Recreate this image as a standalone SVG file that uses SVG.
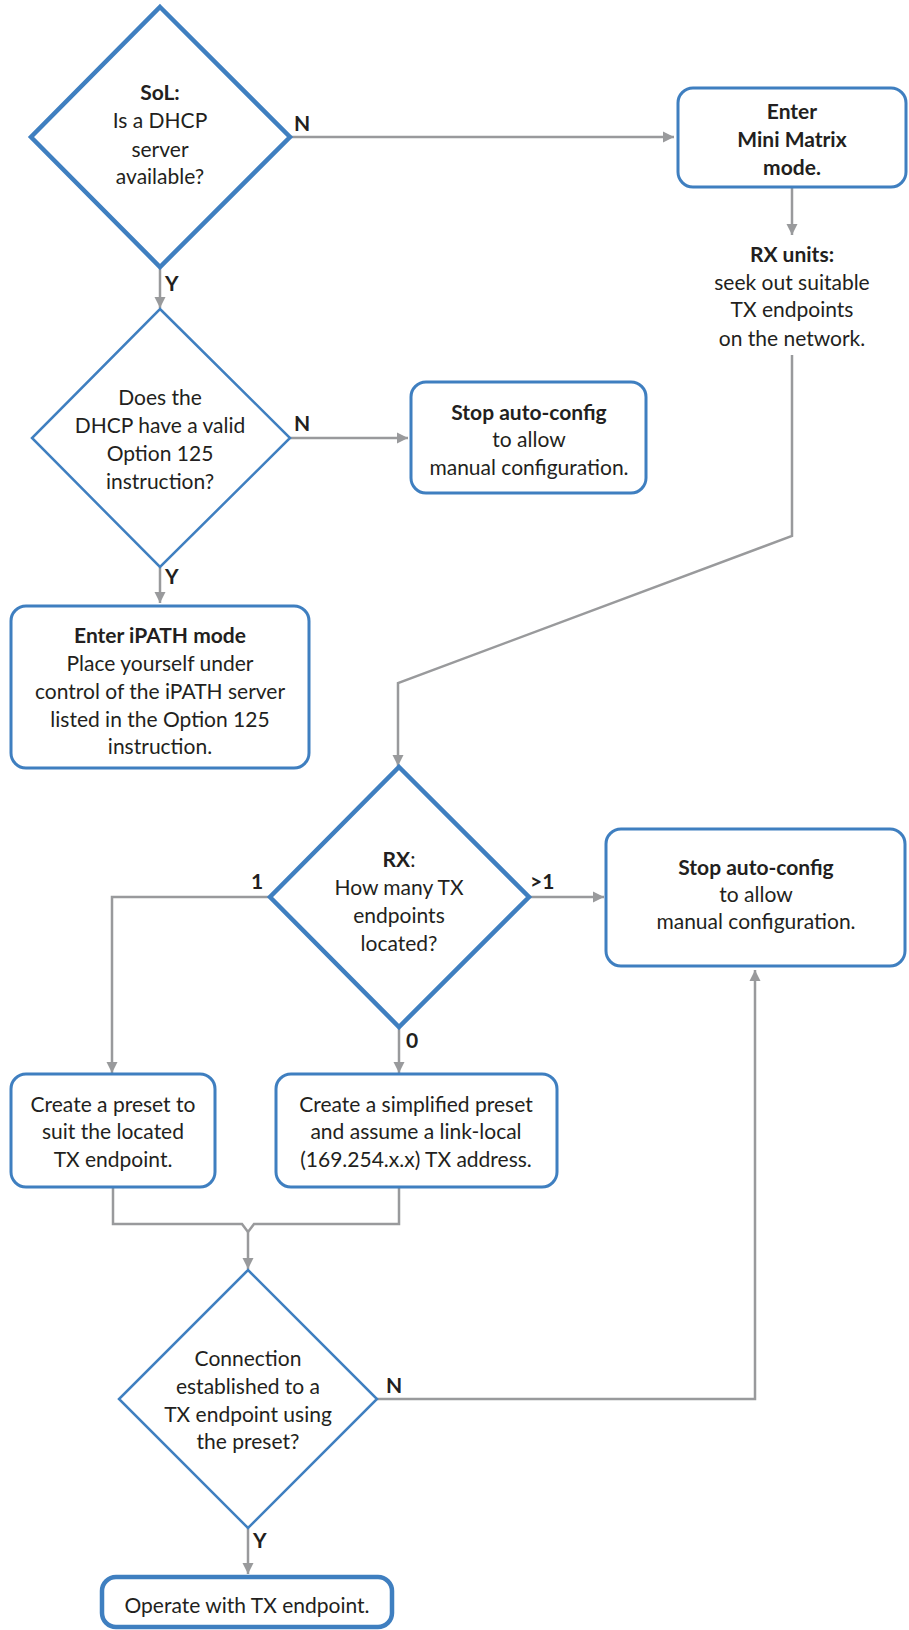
<svg xmlns="http://www.w3.org/2000/svg" width="909" height="1630" viewBox="0 0 909 1630">
<style>
text{font-family:Lato,"Open Sans","Liberation Sans",sans-serif;font-size:21px;fill:#231f20;text-anchor:middle}
.b{font-weight:bold}
.lbl{font-weight:bold;font-size:21px;text-anchor:start}
.thick{fill:#fff;stroke:#3f7fc0;stroke-width:4.5;stroke-linejoin:miter}
.thin{fill:#fff;stroke:#3f7fc0;stroke-width:2.5}
.box{fill:#fff;stroke:#3f7fc0;stroke-width:3}
.c{fill:none;stroke:#999a9c;stroke-width:2.5}
.ca{fill:none;stroke:#999a9c;stroke-width:2.5;marker-end:url(#ah)}
</style>
<defs>
<marker id="ah" viewBox="0 0 10 10" refX="10" refY="5" markerWidth="11" markerHeight="12" markerUnits="userSpaceOnUse" orient="auto">
<path d="M0,0 L10,5 L0,10 z" fill="#999a9c"/>
</marker>
</defs>

<g id="connectors">
<path class="ca" d="M290,137 H674"/>
<path class="ca" d="M792,187 V235"/>
<path class="ca" d="M160,267 V308"/>
<path class="ca" d="M290,438 H408"/>
<path class="ca" d="M160,567 V603"/>
<path class="ca" d="M792,355 V536 L398,683 V766"/>
<path class="ca" d="M270,897 H112 V1073"/>
<path class="ca" d="M399,1027 V1073"/>
<path class="ca" d="M529,897 H604"/>
<path class="c" d="M113,1187 V1224 H242 L248,1232 L254,1224 H399 V1187"/>
<path class="ca" d="M248,1232 V1269"/>
<path class="ca" d="M377,1399 H755 V970"/>
<path class="ca" d="M248,1528 V1574"/>
<text class="lbl" x="294" y="131">N</text>
<text class="lbl" x="165" y="291">Y</text>
<text class="lbl" x="294" y="431">N</text>
<text class="lbl" x="165" y="584">Y</text>
<text class="lbl" x="251" y="889">1</text>
<text class="lbl" x="530" y="889">&gt;1</text>
<text class="lbl" x="406" y="1048">0</text>
<text class="lbl" x="386" y="1393">N</text>
<text class="lbl" x="253" y="1548">Y</text>
</g>

<g id="sol">
<polygon class="thick" points="160,7 290,137 160,267 31,137"/>
<text x="160" y="100" class="b">SoL:</text>
<text x="160" y="128">Is a DHCP</text>
<text x="160" y="157">server</text>
<text x="160" y="184">available?</text>
</g>

<g id="minimatrix">
<rect class="box" x="678" y="88" width="228" height="99" rx="15"/>
<text x="792" y="119" class="b">Enter</text>
<text x="792" y="147" class="b">Mini Matrix</text>
<text x="792" y="175" class="b">mode.</text>
</g>

<g id="rxunits">
<text x="792" y="262" class="b">RX units:</text>
<text x="792" y="290">seek out suitable</text>
<text x="792" y="317">TX endpoints</text>
<text x="792" y="346">on the network.</text>
</g>

<g id="option125">
<polygon class="thin" points="160,309 290,438 160,567 32,438"/>
<text x="160" y="405">Does the</text>
<text x="160" y="433">DHCP have a valid</text>
<text x="160" y="461">Option 125</text>
<text x="160" y="489">instruction?</text>
</g>

<g id="stop1">
<rect class="box" x="411" y="382" width="235" height="111" rx="15"/>
<text x="529" y="420" class="b">Stop auto-config</text>
<text x="529" y="447">to allow</text>
<text x="529" y="475">manual configuration.</text>
</g>

<g id="ipath">
<rect class="box" x="11" y="606" width="298" height="162" rx="15"/>
<text x="160" y="643" class="b">Enter iPATH mode</text>
<text x="160" y="671">Place yourself under</text>
<text x="160" y="699">control of the iPATH server</text>
<text x="160" y="727">listed in the Option 125</text>
<text x="160" y="754">instruction.</text>
</g>

<g id="rx">
<polygon class="thick" points="399,767 529,897 399,1027 270,897"/>
<text x="399" y="867"><tspan class="b">RX</tspan>:</text>
<text x="399" y="895">How many TX</text>
<text x="399" y="923">endpoints</text>
<text x="399" y="951">located?</text>
</g>

<g id="stop2">
<rect class="box" x="606" y="829" width="299" height="137" rx="15"/>
<text x="756" y="875" class="b">Stop auto-config</text>
<text x="756" y="902">to allow</text>
<text x="756" y="929">manual configuration.</text>
</g>

<g id="preset">
<rect class="box" x="11" y="1074" width="204" height="113" rx="15"/>
<text x="113" y="1112">Create a preset to</text>
<text x="113" y="1139">suit the located</text>
<text x="113" y="1167">TX endpoint.</text>
</g>

<g id="simplified">
<rect class="box" x="276" y="1074" width="281" height="113" rx="15"/>
<text x="416" y="1112">Create a simplified preset</text>
<text x="416" y="1139">and assume a link-local</text>
<text x="416" y="1167">(169.254.x.x) TX address.</text>
</g>

<g id="connection">
<polygon class="thin" points="248,1270 377,1399 248,1528 119,1399"/>
<text x="248" y="1366">Connection</text>
<text x="248" y="1394">established to a</text>
<text x="248" y="1422">TX endpoint using</text>
<text x="248" y="1449">the preset?</text>
</g>

<g id="operate">
<rect x="102" y="1577" width="290" height="50" rx="14" fill="#fff" stroke="#3f7fc0" stroke-width="4.5"/>
<text x="247" y="1613">Operate with TX endpoint.</text>
</g>
</svg>
